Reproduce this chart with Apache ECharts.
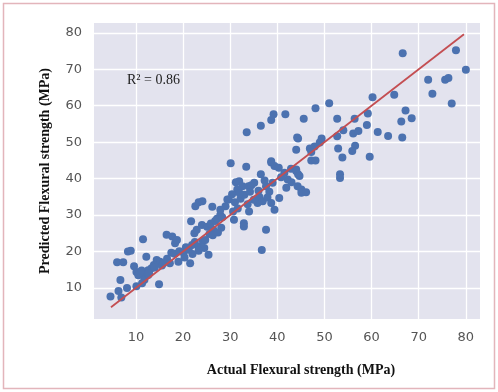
<!DOCTYPE html>
<html>
<head>
<meta charset="utf-8">
<script src="https://cdn.jsdelivr.net/npm/echarts@6/dist/echarts.min.js"></script>
<style>
  html, body { margin: 0; padding: 0; background: #fff; }
  #chart { width: 498px; height: 392px; }
</style>
</head>
<body>
<div id="chart"></div>
<script>
// Actual vs predicted flexural strength (MPa)
const actual = [
  4.6, 6.3, 6.9, 6.7, 8.1, 6.0, 7.3, 8.3, 8.9, 10.1, 9.6, 10.1, 10.5, 11.5, 12.2, 11.6, 11.8, 12.6, 11.2, 12.6,
  13.3, 14.9, 14.4, 15.1, 15.5, 16.5, 17.7, 15.8, 16.6, 17.5, 18.3, 18.7, 17.2, 19.0, 18.2, 19.2, 20.1, 20.6, 21.5, 11.3,
  12.8, 13.8, 14.0,
  21.7, 22.6, 23.3, 24.1, 21.2, 21.9, 22.5, 23.3, 24.2, 22.4, 22.9, 25.4, 24.7, 25.6, 24.0, 26.2, 26.4, 25.1, 25.9, 26.8,
  27.2, 27.9, 28.3, 29.4, 29.0, 27.9, 29.7, 28.1, 26.3, 27.4, 24.5, 23.3, 20.3, 22.0,
  30.8, 30.1, 33.4, 31.2, 31.9, 32.6, 31.5, 33.9, 35.1, 36.5, 37.6, 38.3, 39.0, 38.7, 39.4, 32.9, 32.9, 34.0, 35.8, 36.2,
  36.9, 37.9, 38.7, 39.4, 37.6, 36.7, 31.0, 32.2, 33.0, 34.2, 35.0, 31.6, 30.4, 33.5, 36.5, 38.7, 39.2, 38.7, 34.5, 36.0,
  37.3, 32.0, 30.6, 33.7,
  40.4, 41.5, 42.2, 41.9, 44.0, 44.4, 45.1, 40.3, 41.7, 44.4, 44.0, 42.9, 44.0, 44.7, 44.3, 45.1, 46.1, 45.6, 44.2, 46.9,
  47.9, 49.4, 49.0, 47.2, 47.2, 48.1, 48.1, 40.8, 43.0,
  51.0, 52.7, 52.9, 53.8, 53.3, 53.3, 52.7, 54.0, 56.1, 57.2, 56.4, 56.5, 55.9, 59.6, 59.0, 59.2, 60.2, 61.3, 63.5, 64.8,
  66.6, 67.2, 66.3, 68.5, 66.5, 72.0, 72.9, 75.6, 76.3, 77.0, 77.9, 80.0
];
const predicted = [
  7.7, 9.2, 7.4, 12.2, 10.0, 17.1, 17.1, 20.0, 20.2, 10.5, 16.0, 14.4, 13.5, 23.4, 18.6, 13.4, 12.3, 13.6, 14.8, 14.9,
  15.4, 11.0, 17.7, 17.2, 16.2, 24.6, 24.1, 16.8, 18.0, 19.7, 22.3, 23.2, 16.8, 17.2, 19.4, 20.1, 19.7, 21.2, 16.8, 11.3,
  14.0, 16.3, 15.6,
  28.3, 32.4, 33.5, 33.8, 20.5, 21.8, 22.6, 21.3, 22.9, 25.0, 26.0, 19.1, 23.2, 24.8, 27.3, 32.3, 26.0, 26.8, 27.7, 28.4,
  29.0, 30.0, 29.4, 34.3, 32.4, 31.5, 34.3, 26.5, 24.5, 25.2, 21.0, 20.2, 18.4, 19.3,
  28.7, 44.2, 43.3, 39.0, 39.3, 37.9, 37.0, 37.9, 38.9, 41.2, 37.9, 36.4, 38.9, 44.4, 43.5, 27.8, 26.9, 31.0, 33.3, 35.0,
  33.8, 34.8, 33.3, 31.5, 26.0, 20.4, 33.5, 34.5, 35.6, 36.4, 34.2, 31.8, 35.7, 52.7, 54.5, 56.1, 57.7, 44.8, 38.2, 36.7,
  39.5, 36.0, 31.0, 33.0,
  34.7, 41.6, 39.8, 37.5, 42.5, 41.2, 37.0, 43.0, 57.7, 51.0, 47.9, 42.7, 42.1, 40.7, 37.9, 36.1, 36.3, 56.4, 51.3, 48.3,
  48.8, 51.0, 49.9, 47.3, 45.0, 45.0, 59.3, 40.4, 39.0,
  60.7, 56.4, 48.3, 45.8, 41.2, 40.2, 51.6, 53.3, 52.4, 53.1, 56.4, 49.0, 47.6, 46.0, 54.7, 57.9, 62.3, 52.8, 51.7, 63.0,
  74.4, 58.7, 55.7, 56.6, 51.3, 67.1, 63.3, 67.1, 67.6, 60.6, 75.2, 69.9
];
const tickValues = [10, 20, 30, 40, 50, 60, 70, 80];
const fitLine = [[4.7, 4.7], [79.6, 79.6]];
const r2Label = 'R² = 0.86';

const points = actual.map((x, i) => [x, predicted[i]]);

const chart = echarts.init(document.getElementById('chart'), null, { renderer: 'canvas' });

// splitLine doesn't follow customValues, so grid lines come from a markLine
const gridLines = [];
tickValues.forEach(v => {
  gridLines.push({ xAxis: v });
  gridLines.push({ yAxis: v });
});

const axisCommon = {
  type: 'value',
  axisLine: { show: false },
  axisTick: { show: false, customValues: tickValues },
  axisLabel: {
    customValues: tickValues,
    color: '#555',
    fontSize: 13,
    fontFamily: 'DejaVu Sans',
    margin: 12
  },
  splitLine: { show: false },
  nameLocation: 'middle',
  nameTextStyle: {
    fontFamily: 'Liberation Serif',
    fontWeight: 'bold',
    fontSize: 14,
    color: '#111'
  }
};

const option = {
  animation: false,
  grid: {
    left: 94, right: 18, top: 23, bottom: 73,
    show: true,
    backgroundColor: '#E3E3EE',
    borderWidth: 0
  },
  xAxis: Object.assign({}, axisCommon, {
    min: 1.1, max: 83.0,
    name: 'Actual Flexural strength (MPa)',
    nameGap: 44,
    nameTextStyle: Object.assign({}, axisCommon.nameTextStyle, { padding: [0, 0, 0, 28] })
  }),
  yAxis: Object.assign({}, axisCommon, {
    min: 1.5, max: 82.7,
    name: 'Predicted Flexural strength (MPa)',
    nameGap: 42
  }),
  graphic: [
    {
      type: 'rect',
      shape: { x: 3.5, y: 3.5, width: 491, height: 385 },
      style: { fill: 'none', stroke: '#E3B5BB', lineWidth: 1.5 },
      z: 100
    },
    {
      type: 'text',
      left: 127, top: 73,
      style: {
        text: r2Label,
        font: '14px "Liberation Serif"',
        fill: '#222'
      },
      z: 100
    }
  ],
  series: [
    {
      // grid lines only
      type: 'line',
      data: [],
      z: 1,
      markLine: {
        silent: true,
        z: 1,
        symbol: ['none', 'none'],
        label: { show: false },
        lineStyle: { color: '#ffffff', width: 1.3, type: 'solid' },
        emphasis: { disabled: true },
        animation: false,
        data: gridLines
      }
    },
    {
      type: 'scatter',
      data: points,
      symbolSize: 8,
      itemStyle: { color: '#4C72B0', opacity: 1 },
      z: 2
    },
    {
      type: 'line',
      data: fitLine,
      symbol: 'none',
      lineStyle: { color: '#C44E52', width: 1.8 },
      z: 3
    }
  ]
};

chart.setOption(option);
</script>
</body>
</html>
